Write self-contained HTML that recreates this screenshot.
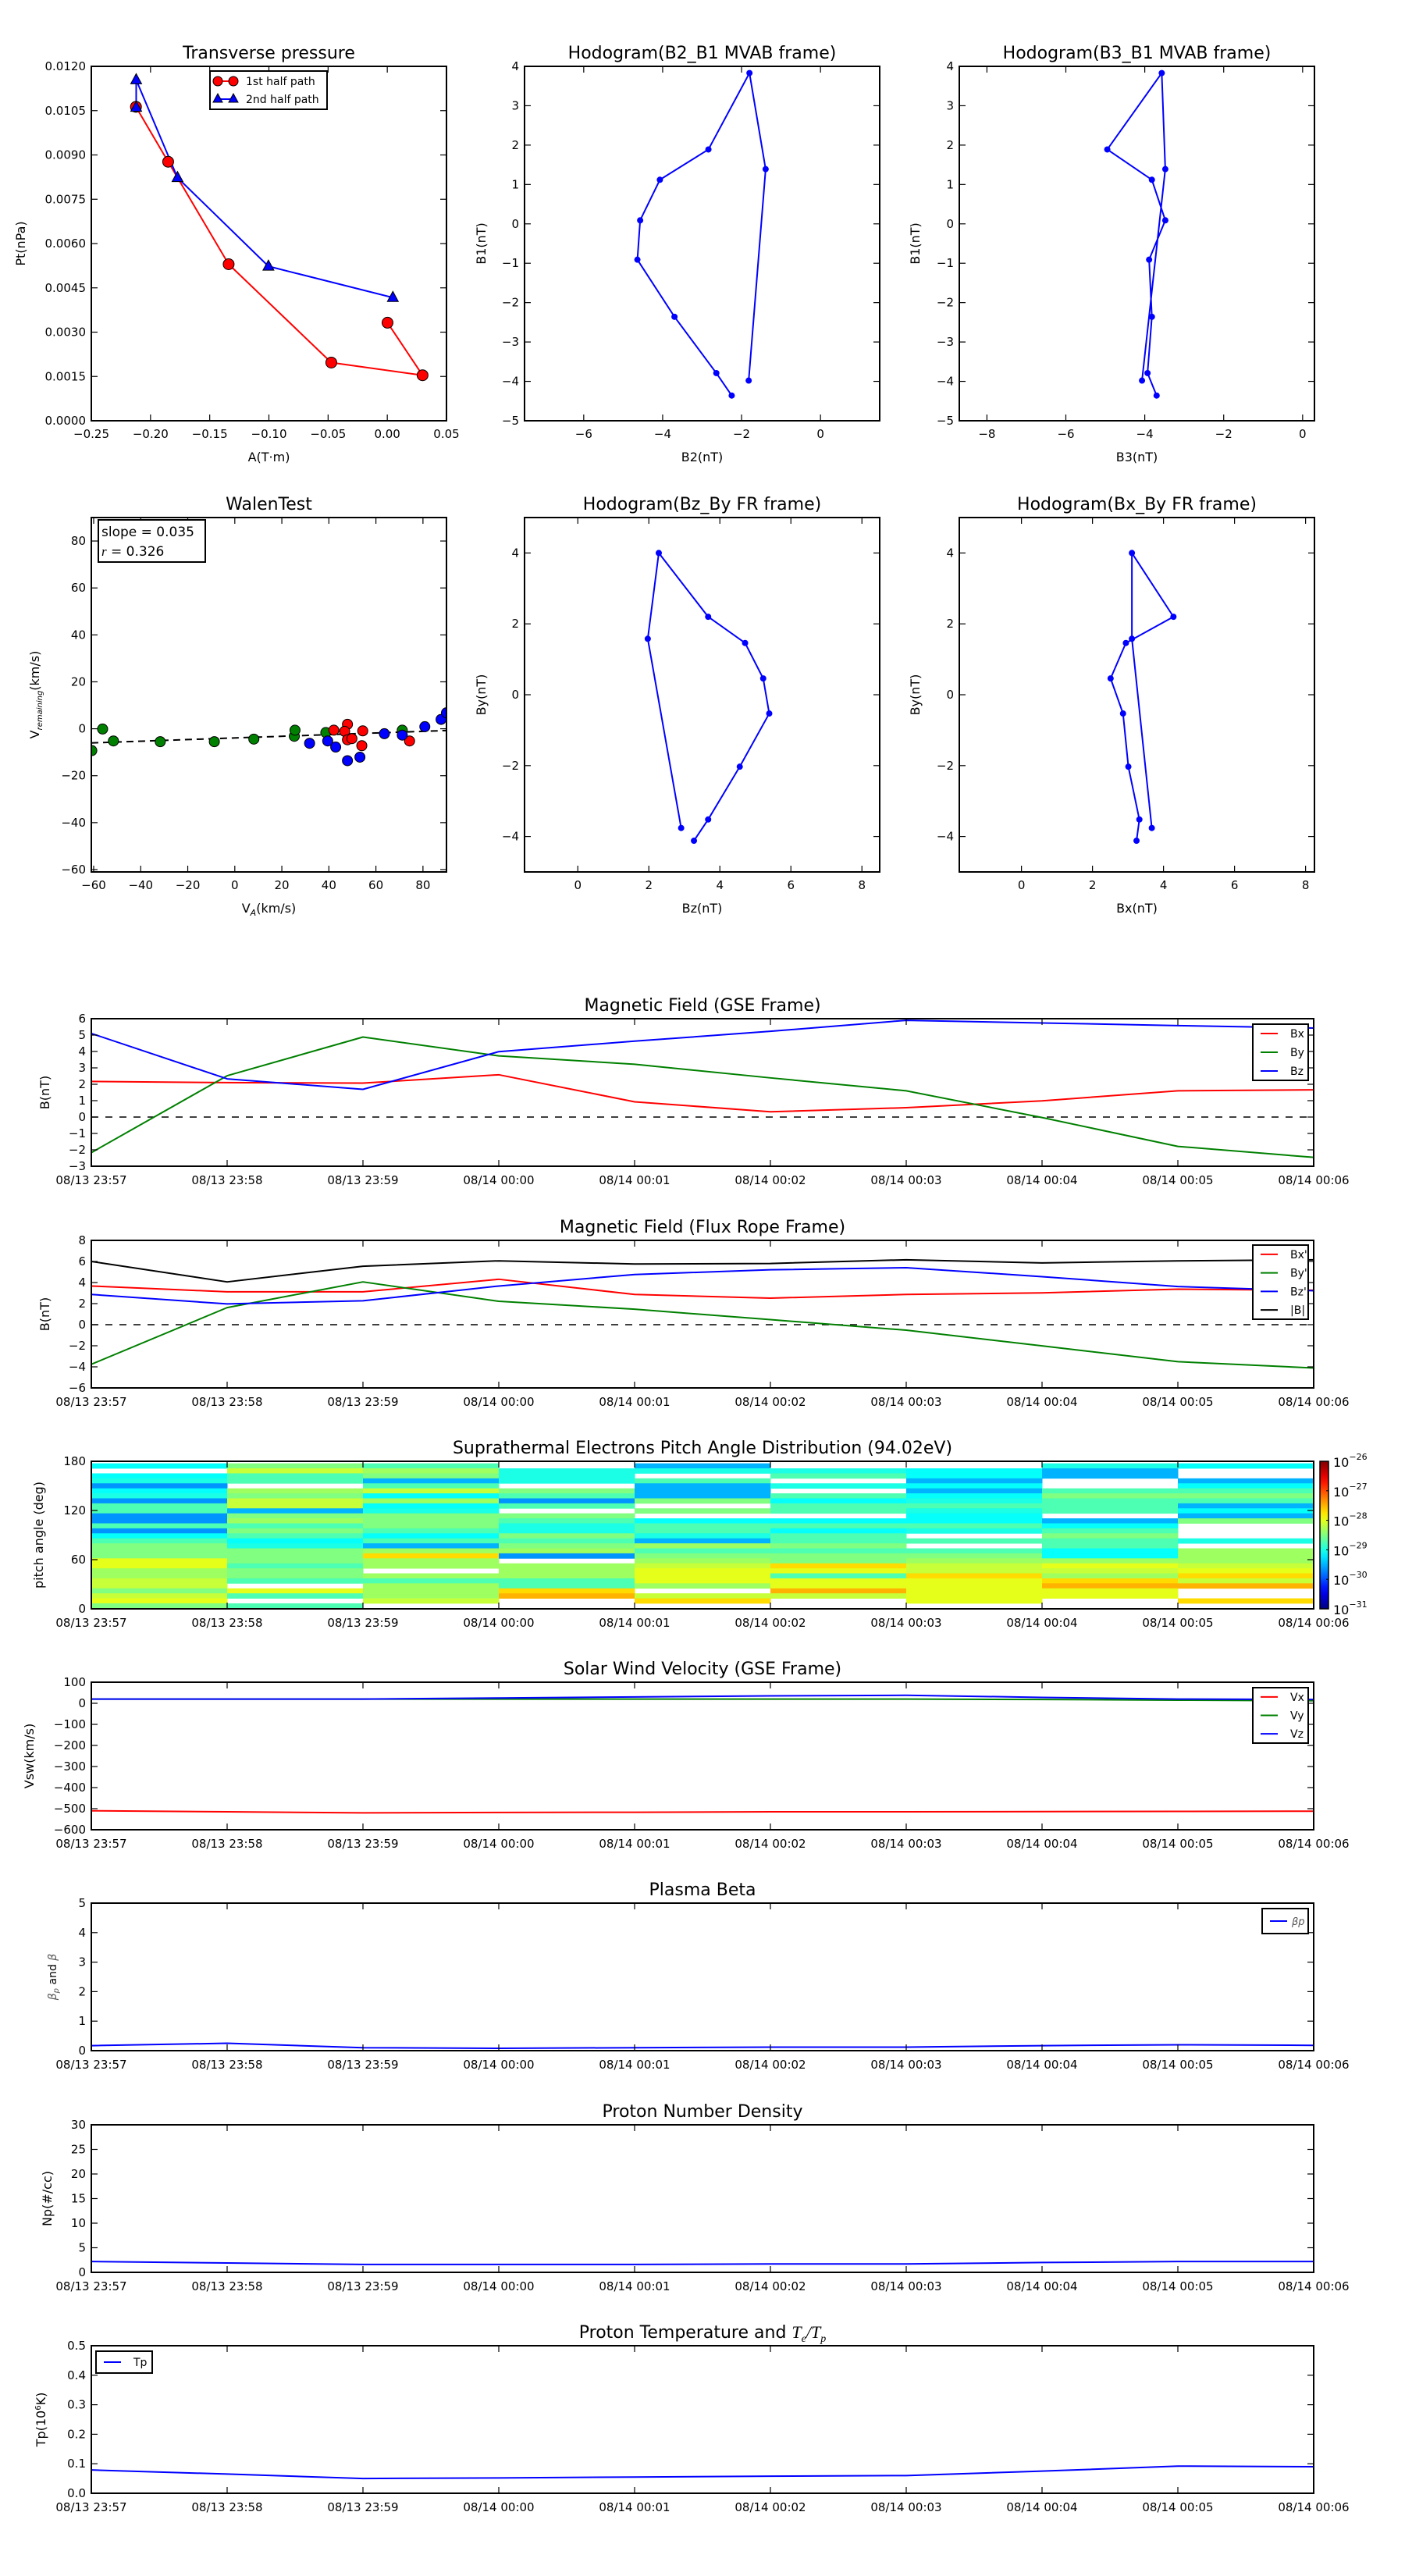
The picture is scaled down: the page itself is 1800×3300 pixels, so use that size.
<!DOCTYPE html>
<html><head><meta charset="utf-8"><style>
html,body{margin:0;padding:0;background:#fff;}
svg{display:block;font-family:"DejaVu Sans","Liberation Sans",sans-serif;}
</style></head><body>
<svg id="fig" width="1800" height="3300" viewBox="0 0 1800 3300" xmlns="http://www.w3.org/2000/svg"></svg>
<script>
// ---------- data ----------
const ptRedA = [-0.2123, -0.1851, -0.134, -0.0473, 0.0298, 0.0002];
const ptRedP = [0.01063, 0.00877, 0.0053, 0.00197, 0.00154, 0.00332];
const ptBlueA = [-0.2121, -0.2121, -0.1772, -0.1004, 0.0047];
const ptBlueP = [0.01061, 0.01154, 0.00823, 0.00523, 0.00417];

const hB1 = [-3.98, 1.39, 3.83, 1.89, 1.12, 0.09, -0.91, -2.36, -3.79, -4.36];
const hB2 = [-1.82, -1.39, -1.80, -2.84, -4.07, -4.57, -4.64, -3.70, -2.64, -2.25];
const hB3 = [-4.07, -3.48, -3.57, -4.95, -3.82, -3.48, -3.89, -3.82, -3.93, -3.70];

const frBy = [-3.76, 1.58, 4.0, 2.2, 1.46, 0.46, -0.53, -2.03, -3.52, -4.12];
const frBz = [2.91, 1.97, 2.28, 3.67, 4.71, 5.22, 5.39, 4.56, 3.67, 3.27];
const frBx = [3.67, 3.11, 3.11, 4.28, 2.94, 2.51, 2.86, 3.01, 3.32, 3.24];

const walGreenX = [-60.8, -56.2, -51.6, -31.7, -8.7, 8.1, 25.3, 25.6, 38.7, 71.2];
const walGreenY = [-9.3, -0.1, -5.2, -5.5, -5.5, -4.4, -3.2, -0.6, -1.6, -0.6];
const walRedX = [42.1, 47.9, 46.7, 47.9, 49.8, 54.4, 54.0, 74.3];
const walRedY = [-0.6, 1.9, -1.1, -4.7, -4.2, -0.9, -7.2, -5.2];
const walBlueX = [31.8, 39.5, 42.9, 47.9, 53.2, 63.6, 71.2, 80.8, 87.7, 90.0];
const walBlueY = [-6.2, -5.2, -7.8, -13.6, -12.1, -2.1, -2.7, 0.9, 4.0, 6.8];
const walSlope = 0.035;
const walIntercept = -3.9;

const timeLabels = ["08/13 23:57","08/13 23:58","08/13 23:59","08/14 00:00","08/14 00:01","08/14 00:02","08/14 00:03","08/14 00:04","08/14 00:05","08/14 00:06"];
const gseBx = [2.17, 2.1, 2.07, 2.58, 0.93, 0.32, 0.57, 0.99, 1.6, 1.66];
const gseBy = [-2.17, 2.52, 4.88, 3.73, 3.22, 2.39, 1.6, -0.03, -1.79, -2.46];
const gseBz = [5.1, 2.33, 1.69, 3.99, 4.63, 5.23, 5.9, 5.74, 5.58, 5.43];
const frpBx = [3.67, 3.12, 3.12, 4.31, 2.87, 2.52, 2.87, 3.02, 3.37, 3.27];
const frpBy = [-3.76, 1.62, 4.06, 2.22, 1.47, 0.48, -0.52, -2.01, -3.51, -4.11];
const frpBz = [2.87, 1.97, 2.27, 3.67, 4.76, 5.21, 5.41, 4.56, 3.62, 3.22];
const frpBt = [6.0, 4.06, 5.55, 6.06, 5.76, 5.81, 6.16, 5.86, 6.06, 6.16];
const vswX = [-510, -515, -520, -518, -517, -515, -515, -514, -513, -512];
const vswY = [20, 20, 20, 20, 20, 20, 20, 18, 15, 12];
const vswZ = [20, 20, 20, 25, 30, 35, 38, 28, 20, 18];
const betaP = [0.17, 0.25, 0.1, 0.08, 0.1, 0.12, 0.12, 0.17, 0.2, 0.18];
const npDen = [2.2, 1.9, 1.6, 1.6, 1.6, 1.7, 1.7, 2.0, 2.2, 2.2];
const tpTemp = [0.079, 0.065, 0.05, 0.052, 0.055, 0.058, 0.06, 0.075, 0.092, 0.09];

// pitch angle distribution: log10 values, top bin to bottom bin, per time column (null = no data)
const padBinTop = 177.5;
const padBinWidth = 6.1;
const pad1 = [-29.1,null,-29.1,-29.0,-29.65,-29.1,-29.0,-29.65,-28.75,-28.75,-29.65,-29.65,-28.75,-29.65,-29.1,-28.75,-28.5,-28.5,-28.5,-28.0,-28.0,-28.35,-28.35,-28.15,-28.15,-28.5,-28.15,-28.0,-28.5];
const pad2 = [-28.5,-28.15,-28.75,-28.75,null,-28.35,-28.5,-28.15,-28.15,-29.5,-28.5,-28.35,-28.75,-28.5,-28.75,-29.1,-29.0,-28.5,-28.5,-28.5,-28.75,-28.5,-28.5,-28.75,null,-28.0,-28.75,null,-28.75];
const pad3 = [-28.75,-28.35,-28.5,-29.5,-28.75,-28.15,-29.1,-28.35,-29.1,-29.0,-28.5,-28.5,-28.5,-28.75,-29.1,-28.75,-29.5,-28.35,-27.7,-28.35,-28.35,null,-28.35,-28.75,-28.35,-28.35,-28.35,-28.15,null];
const pad4 = [null,-29.0,-29.0,-29.0,null,-28.5,-28.75,-29.65,-28.75,null,-28.5,-28.75,-29.0,-29.0,-28.5,-28.75,-28.5,-28.35,-29.65,null,-28.35,-28.35,-28.35,-28.75,-28.75,-27.7,-27.5,null,null];
const pad5 = [-29.5,-29.0,null,-28.75,-29.5,-29.5,-29.5,-28.5,null,-28.5,null,-29.1,-28.75,-28.75,-29.0,-29.5,-28.35,-28.75,-28.5,-28.35,-28.15,-28.0,-28.0,-28.0,-28.35,null,-28.15,-27.7,null];
const pad6 = [null,-29.0,-28.75,null,-29.0,null,-28.75,-29.1,-28.75,-28.75,null,-29.1,-28.75,-29.1,-28.75,-28.75,-28.5,-28.75,-28.5,-28.5,-27.7,-28.0,-28.75,-28.0,-28.0,-27.5,-28.15,null,null];
const pad7 = [null,-29.1,-29.1,-29.5,-29.1,-29.5,-29.1,-29.0,-28.75,-29.0,-29.1,-29.1,-28.75,-29.0,null,-28.75,null,-28.75,-28.5,-28.35,-28.15,-28.15,-27.7,-28.0,-28.0,-28.0,-28.0,-28.0,null];
const pad8 = [-29.0,-29.5,-29.5,null,null,-28.75,-28.5,-28.75,-28.75,-28.75,null,-29.5,-29.1,-28.75,-28.5,-28.75,-28.75,-29.1,-29.1,-28.35,-28.0,-28.15,-28.35,-27.7,-27.5,-28.0,-28.0,null,null];
const pad9 = [-29.1,null,null,-29.5,-29.1,-28.75,-28.5,-28.75,-29.5,-29.1,-29.5,-28.5,null,null,null,-29.0,null,-28.35,-28.35,-28.35,-28.15,-28.0,-27.7,-28.15,-27.5,null,null,-27.7,null];
const padColumns = [pad1, pad2, pad3, pad4, pad5, pad6, pad7, pad8, pad9];
const cbarExps = [-26, -27, -28, -29, -30, -31];

// ---------- helpers ----------
const NS = "http://www.w3.org/2000/svg";
const svg = document.getElementById('fig');
let clipId = 0;
function mk(tag, parent) { const e = document.createElementNS(NS, tag); (parent || svg).appendChild(e); return e; }
function att(e, o) { for (const k in o) e.setAttribute(k, o[k]); return e; }
function fmtNum(v, d) { const s = Math.abs(v).toFixed(d); return (v < 0 ? "\u2212" : "") + s; }

function makeAxes(name, x0, y0, w, h, xmin, xmax, ymin, ymax) {
  const g = mk('g');
  
  
  const cid = 'clip' + (clipId++);
  const cp = mk('clipPath', g); cp.setAttribute('id', cid);
  att(mk('rect', cp), {x: x0, y: y0, width: w, height: h});
  const plot = mk('g', g);
  plot.setAttribute('clip-path', 'url(#' + cid + ')');
  
  
  return {g, plot, x0, y0, w, h,
    sx: v => x0 + (v - xmin) / (xmax - xmin) * w,
    sy: v => y0 + h - (v - ymin) / (ymax - ymin) * h};
}
function frame(ax) {
  const r = mk('rect', ax.g);
  att(r, {x: ax.x0, y: ax.y0, width: ax.w, height: ax.h, fill: 'none', stroke: '#000', 'stroke-width': 2});
  
  
}
function xTicks(ax, vals, labels, fs, off) {
  vals.forEach((v, i) => {
    const x = ax.sx(v);
    att(mk('line', ax.g), {x1: x, x2: x, y1: ax.y0 + ax.h, y2: ax.y0 + ax.h - 8, stroke: '#000', 'stroke-width': 1.2});
    att(mk('line', ax.g), {x1: x, x2: x, y1: ax.y0, y2: ax.y0 + 8, stroke: '#000', 'stroke-width': 1.2});
    const t = mk('text', ax.g);
    att(t, {x: x, y: ax.y0 + ax.h + (off || 22), 'font-size': fs || 15, 'text-anchor': 'middle'});
    
    
    t.textContent = labels[i];
  });
}
function yTicks(ax, vals, labels, fs) {
  vals.forEach((v, i) => {
    const y = ax.sy(v);
    att(mk('line', ax.g), {x1: ax.x0, x2: ax.x0 + 8, y1: y, y2: y, stroke: '#000', 'stroke-width': 1.2});
    att(mk('line', ax.g), {x1: ax.x0 + ax.w, x2: ax.x0 + ax.w - 8, y1: y, y2: y, stroke: '#000', 'stroke-width': 1.2});
    const t = mk('text', ax.g);
    att(t, {x: ax.x0 - 7, y: y + 5, 'font-size': fs || 15, 'text-anchor': 'end'});
    
    
    t.textContent = labels[i];
  });
}
function title(ax, txt, name) {
  const t = mk('text', ax.g);
  att(t, {x: ax.x0 + ax.w / 2, y: ax.y0 - 10, 'font-size': 22, 'text-anchor': 'middle'});
  
  
  t.textContent = txt;
  return t;
}
function xLabel(ax, txt, y) {
  const t = mk('text', ax.g);
  att(t, {x: ax.x0 + ax.w / 2, y: y, 'font-size': 16, 'text-anchor': 'middle'});
  
  
  t.textContent = txt;
  return t;
}
function yLabel(ax, txt, x) {
  const t = mk('text', ax.g);
  const cy = ax.y0 + ax.h / 2;
  att(t, {x: x, y: cy, 'font-size': 16, 'text-anchor': 'middle', transform: 'rotate(-90 ' + x + ' ' + cy + ')'});
  
  
  t.textContent = txt;
  return t;
}
function line(ax, xs, ys, color, name, width, dash) {
  const p = mk('polyline', ax.plot);
  att(p, {points: xs.map((x, i) => ax.sx(x) + ',' + ax.sy(ys[i])).join(' '), fill: 'none', stroke: color, 'stroke-width': width || 2, 'stroke-linejoin': 'round'});
  if (dash) p.setAttribute('stroke-dasharray', dash);
  
  
  return p;
}
function dots(ax, xs, ys, color, name, r, parent) {
  xs.forEach((x, i) => {
    const c = mk('circle', parent || ax.plot);
    att(c, {cx: ax.sx(x), cy: ax.sy(ys[i]), r: r, fill: color, stroke: r > 5 ? '#000' : 'none', 'stroke-width': 1});
    
    
  });
}
function tris(ax, xs, ys, name) {
  xs.forEach((x, i) => {
    const cx = ax.sx(x), cy = ax.sy(ys[i]);
    const p = mk('polygon', ax.g);
    att(p, {points: `${cx},${cy - 8} ${cx - 7},${cy + 5} ${cx + 7},${cy + 5}`, fill: '#0000ff', stroke: '#000', 'stroke-width': 1});
    
    
  });
}
function legend(x, y, w, h, entries, name, fs) {
  const g = mk('g');
  
  
  att(mk('rect', g), {x: x, y: y, width: w, height: h, fill: '#fff', stroke: '#000', 'stroke-width': 2});
  const step = h / entries.length;
  entries.forEach((e, i) => {
    const cy = y + step * (i + 0.5);
    att(mk('line', g), {x1: x + 10, x2: x + 32, y1: cy, y2: cy, stroke: e[1], 'stroke-width': 2});
    const t = mk('text', g);
    att(t, {x: x + 48, y: cy + 5, 'font-size': fs || 14});
    
    
    t.textContent = e[0];
  });
  return g;
}
function range(a, b, s) { const r = []; for (let v = a; v <= b + 1e-9; v += s) r.push(+v.toFixed(6)); return r; }

const R1Y = 85, R2Y = 663, RH = 454;

// ---------- Transverse pressure ----------
{
  const ax = makeAxes('transverse-pressure-chart', 117, R1Y, 455, RH, -0.25, 0.05, 0, 0.012);
  line(ax, ptRedA, ptRedP, '#ff0000', 'first-half-path-line');
  line(ax, ptBlueA, ptBlueP, '#0000ff', 'second-half-path-line');
  dots(ax, ptRedA, ptRedP, '#ff0000', 'first-half-point', 7, ax.g);
  tris(ax, ptBlueA, ptBlueP, 'second-half-point');
  const xv = range(-0.25, 0.05, 0.05);
  xTicks(ax, xv, xv.map(v => fmtNum(v, 2)));
  const yv = range(0, 0.012, 0.0015);
  yTicks(ax, yv, yv.map(v => fmtNum(v, 4)));
  title(ax, 'Transverse pressure');
  xLabel(ax, 'A(T\u00b7m)', R1Y + RH + 52);
  yLabel(ax, 'Pt(nPa)', 32);
  frame(ax);
  const lg = mk('g');
  
  
  att(mk('rect', lg), {x: 269, y: 91, width: 150, height: 49, fill: '#fff', stroke: '#000', 'stroke-width': 2});
  att(mk('line', lg), {x1: 279, x2: 299, y1: 104, y2: 104, stroke: '#f00', 'stroke-width': 2});
  att(mk('circle', lg), {cx: 279, cy: 104, r: 6, fill: '#f00', stroke: '#000'});
  att(mk('circle', lg), {cx: 299, cy: 104, r: 6, fill: '#f00', stroke: '#000'});
  att(mk('line', lg), {x1: 279, x2: 299, y1: 127, y2: 127, stroke: '#00f', 'stroke-width': 2});
  att(mk('polygon', lg), {points: '279,120 273,131 285,131', fill: '#00f', stroke: '#000'});
  att(mk('polygon', lg), {points: '299,120 293,131 305,131', fill: '#00f', stroke: '#000'});
  const t1 = mk('text', lg); att(t1, {x: 315, y: 109, 'font-size': 14}); t1.textContent = '1st half path';
  
  
  const t2 = mk('text', lg); att(t2, {x: 315, y: 132, 'font-size': 14}); t2.textContent = '2nd half path';
  
  
}

// ---------- Hodograms ----------
function hodo(name, ttl, x0, y0, xmin, xmax, ymin, ymax, xs, ys, xt, yt, xl, yl, ylx) {
  const ax = makeAxes(name, x0, y0, 455, RH, xmin, xmax, ymin, ymax);
  line(ax, xs, ys, '#0000ff', name + '-path', 2);
  dots(ax, xs, ys, '#0000ff', name + '-point', 4);
  xTicks(ax, xt, xt.map(v => fmtNum(v, 0)));
  yTicks(ax, yt, yt.map(v => fmtNum(v, 0)));
  title(ax, ttl);
  xLabel(ax, xl, y0 + RH + 52);
  yLabel(ax, yl, ylx);
  frame(ax);
}
hodo('hodogram-b2-b1', 'Hodogram(B2_B1 MVAB frame)', 672, R1Y, -7.5, 1.5, -5, 4, hB2, hB1, [-6, -4, -2, 0], range(-5, 4, 1), 'B2(nT)', 'B1(nT)', 622);
hodo('hodogram-b3-b1', 'Hodogram(B3_B1 MVAB frame)', 1229, R1Y, -8.7, 0.3, -5, 4, hB3, hB1, [-8, -6, -4, -2, 0], range(-5, 4, 1), 'B3(nT)', 'B1(nT)', 1178);
hodo('hodogram-bz-by', 'Hodogram(Bz_By FR frame)', 672, R2Y, -1.5, 8.5, -5, 5, frBz, frBy, [0, 2, 4, 6, 8], [-4, -2, 0, 2, 4], 'Bz(nT)', 'By(nT)', 622);
hodo('hodogram-bx-by', 'Hodogram(Bx_By FR frame)', 1229, R2Y, -1.75, 8.25, -5, 5, frBx, frBy, [0, 2, 4, 6, 8], [-4, -2, 0, 2, 4], 'Bx(nT)', 'By(nT)', 1178);

// ---------- Walen test ----------
{
  const ax = makeAxes('walen-test-chart', 117, R2Y, 455, RH, -61, 90, -61, 90);
  line(ax, [-61, 90], [walIntercept + walSlope * -61, walIntercept + walSlope * 90], '#000', 'regression-line', 2, '9,6');
  dots(ax, walGreenX, walGreenY, '#008000', 'walen-green-point', 6.5);
  dots(ax, walRedX, walRedY, '#ff0000', 'walen-red-point', 6.5);
  dots(ax, walBlueX, walBlueY, '#0000ff', 'walen-blue-point', 6.5);
  const xv = range(-60, 80, 20);
  xTicks(ax, xv, xv.map(v => fmtNum(v, 0)));
  yTicks(ax, xv, xv.map(v => fmtNum(v, 0)));
  title(ax, 'WalenTest');
  const xl = xLabel(ax, '', R2Y + RH + 52);
  xl.innerHTML = 'V<tspan font-size="11" dy="4" font-style="italic">A</tspan><tspan dy="-4">(km/s)</tspan>';
  const yl = yLabel(ax, '', 50);
  yl.innerHTML = 'V<tspan font-size="10" dy="4" font-style="italic">remaining</tspan><tspan dy="-4">(km/s)</tspan>';
  frame(ax);
  const tb = mk('g');
  
  
  att(mk('rect', tb), {x: 126, y: 666, width: 137, height: 54, fill: '#fff', stroke: '#000', 'stroke-width': 2});
  const s1 = mk('text', tb); att(s1, {x: 130, y: 687, 'font-size': 17}); s1.textContent = 'slope = 0.035';
  
  
  const s2 = mk('text', tb); att(s2, {x: 130, y: 712, 'font-size': 17}); s2.innerHTML = '<tspan font-style="italic" font-family="Liberation Serif, serif">r</tspan> = 0.326';
  
  
}

// ---------- time series ----------
const TX = 117, TW = 1566, TH = 189;
const tIdx = timeLabels.map((_, i) => i);
function timeAxes(name, y0, ymin, ymax) {
  return makeAxes(name, TX, y0, TW, TH, 0, 9, ymin, ymax);
}
function timeTicks(ax) { xTicks(ax, tIdx, timeLabels, 15, 23); }
function zeroLine(ax) {
  const l = mk('line', ax.plot);
  att(l, {x1: ax.x0, x2: ax.x0 + ax.w, y1: ax.sy(0), y2: ax.sy(0), stroke: '#000', 'stroke-width': 1.5, 'stroke-dasharray': '9,9'});
  
  
}

{
  const ax = timeAxes('gse-magnetic-field-chart', 1305, -3, 6);
  zeroLine(ax);
  line(ax, tIdx, gseBx, '#ff0000', 'gse-bx-line');
  line(ax, tIdx, gseBy, '#008000', 'gse-by-line');
  line(ax, tIdx, gseBz, '#0000ff', 'gse-bz-line');
  timeTicks(ax);
  const yv = range(-3, 6, 1);
  yTicks(ax, yv, yv.map(v => fmtNum(v, 0)));
  title(ax, 'Magnetic Field (GSE Frame)');
  yLabel(ax, 'B(nT)', 63);
  frame(ax);
  legend(1605, 1312, 71, 72, [['Bx', '#ff0000'], ['By', '#008000'], ['Bz', '#0000ff']], 'gse-legend');
}
{
  const ax = timeAxes('flux-rope-magnetic-field-chart', 1589, -6, 8);
  zeroLine(ax);
  line(ax, tIdx, frpBt, '#000000', 'flux-btotal-line');
  line(ax, tIdx, frpBx, '#ff0000', 'flux-bx-line');
  line(ax, tIdx, frpBy, '#008000', 'flux-by-line');
  line(ax, tIdx, frpBz, '#0000ff', 'flux-bz-line');
  timeTicks(ax);
  const yv = range(-6, 8, 2);
  yTicks(ax, yv, yv.map(v => fmtNum(v, 0)));
  title(ax, 'Magnetic Field (Flux Rope Frame)');
  yLabel(ax, 'B(nT)', 63);
  frame(ax);
  legend(1605, 1595, 71, 95, [["Bx'", '#ff0000'], ["By'", '#008000'], ["Bz'", '#0000ff'], ['|B|', '#000000']], 'flux-legend');
}
function jet(t) {
  t = Math.max(0, Math.min(1, t));
  const r = Math.max(0, Math.min(1, Math.min(4 * t - 1.5, -4 * t + 4.5)));
  const g = Math.max(0, Math.min(1, Math.min(4 * t - 0.5, -4 * t + 3.5)));
  const b = Math.max(0, Math.min(1, Math.min(4 * t + 0.5, -4 * t + 2.5)));
  return `rgb(${Math.round(r * 255)},${Math.round(g * 255)},${Math.round(b * 255)})`;
}
{
  const ax = timeAxes('pitch-angle-distribution-chart', 1872, 0, 180);
  padColumns.forEach((col, ci) => {
    col.forEach((v, ri) => {
      if (v === null) return;
      const top = padBinTop - ri * padBinWidth;
      const y1 = ax.sy(top), y2 = ax.sy(Math.max(0, top - padBinWidth));
      const x1 = ax.sx(ci), x2 = ax.sx(ci + 1);
      const r = mk('rect', ax.plot);
      att(r, {x: x1, y: y1, width: x2 - x1 + 0.5, height: y2 - y1 + 0.4, fill: jet((v + 31) / 5)});
      
      
    });
  });
  timeTicks(ax);
  yTicks(ax, [0, 60, 120, 180], ['0', '60', '120', '180']);
  title(ax, 'Suprathermal Electrons Pitch Angle Distribution (94.02eV)');
  yLabel(ax, 'pitch angle (deg)', 55);
  frame(ax);
  const cb = mk('g');
  
  
  const defs = mk('defs', cb);
  const lg = mk('linearGradient', defs);
  att(lg, {id: 'jetgrad', x1: 0, y1: 1, x2: 0, y2: 0});
  for (let i = 0; i <= 20; i++) {
    const st = mk('stop', lg);
    att(st, {offset: (i / 20), 'stop-color': jet(i / 20)});
  }
  att(mk('rect', cb), {x: 1691, y: 1872, width: 11, height: 189, fill: 'url(#jetgrad)', stroke: '#000', 'stroke-width': 1.5});
  cbarExps.forEach((e, i) => {
    const y = 1872 + (-26 - e) / 5 * 189;
    att(mk('line', cb), {x1: 1699, x2: 1702, y1: y, y2: y, stroke: '#000'});
    const t = mk('text', cb);
    att(t, {x: 1708, y: y + 7, 'font-size': 16});
    t.innerHTML = '10<tspan font-size="11" dy="-9">' + '\u2212' + Math.abs(e) + '</tspan>';
    
    
  });
}
{
  const ax = timeAxes('solar-wind-velocity-chart', 2155, -600, 100);
  line(ax, tIdx, vswX, '#ff0000', 'vx-line');
  line(ax, tIdx, vswY, '#008000', 'vy-line');
  line(ax, tIdx, vswZ, '#0000ff', 'vz-line');
  timeTicks(ax);
  const yv = range(-600, 100, 100);
  yTicks(ax, yv, yv.map(v => fmtNum(v, 0)));
  title(ax, 'Solar Wind Velocity (GSE Frame)');
  yLabel(ax, 'Vsw(km/s)', 43);
  frame(ax);
  legend(1605, 2162, 71, 71, [['Vx', '#ff0000'], ['Vy', '#008000'], ['Vz', '#0000ff']], 'velocity-legend');
}
{
  const ax = timeAxes('plasma-beta-chart', 2438, 0, 5);
  line(ax, tIdx, betaP, '#0000ff', 'beta-p-line');
  timeTicks(ax);
  const yv = range(0, 5, 1);
  yTicks(ax, yv, yv.map(v => fmtNum(v, 0)));
  title(ax, 'Plasma Beta');
  const yl = yLabel(ax, '', 72);
  yl.innerHTML = '<tspan font-style="italic" fill="#555">\u03b2</tspan><tspan font-size="10" dy="3" font-style="italic" fill="#555">p</tspan><tspan dy="-3"> and </tspan><tspan font-style="italic" fill="#555">\u03b2</tspan>';
  yl.setAttribute('font-size', 14);
  frame(ax);
  const lg = legend(1617, 2445, 59, 32, [['\u03b2p', '#0000ff']], 'beta-legend', 13);
  lg.lastChild.setAttribute('x', 1655);
  lg.lastChild.setAttribute('font-style', 'italic');
  lg.lastChild.setAttribute('fill', '#555');
}
{
  const ax = timeAxes('proton-density-chart', 2722, 0, 30);
  line(ax, tIdx, npDen, '#0000ff', 'density-line');
  timeTicks(ax);
  const yv = range(0, 30, 5);
  yTicks(ax, yv, yv.map(v => fmtNum(v, 0)));
  title(ax, 'Proton Number Density');
  yLabel(ax, 'Np(#/cc)', 66);
  frame(ax);
}
{
  const ax = timeAxes('proton-temperature-chart', 3005, 0, 0.5);
  line(ax, tIdx, tpTemp, '#0000ff', 'tp-line');
  timeTicks(ax);
  const yv = range(0, 0.5, 0.1);
  yTicks(ax, yv, yv.map(v => fmtNum(v, 1)));
  const tt = title(ax, '');
  tt.innerHTML = 'Proton Temperature and <tspan font-family="Liberation Serif, serif" font-style="italic">T</tspan><tspan font-family="Liberation Serif, serif" font-style="italic" font-size="14" dy="5">e</tspan><tspan font-family="Liberation Serif, serif" font-style="italic" dy="-5">/T</tspan><tspan font-family="Liberation Serif, serif" font-style="italic" font-size="14" dy="5">p</tspan>';
  const yl = yLabel(ax, '', 58);
  yl.innerHTML = 'Tp(10<tspan font-size="10" dy="-6">6</tspan><tspan dy="6">K)</tspan>';
  frame(ax);
  legend(123, 3012, 72, 28, [['Tp', '#0000ff']], 'tp-legend', 14);
}
</script>
</body></html>
